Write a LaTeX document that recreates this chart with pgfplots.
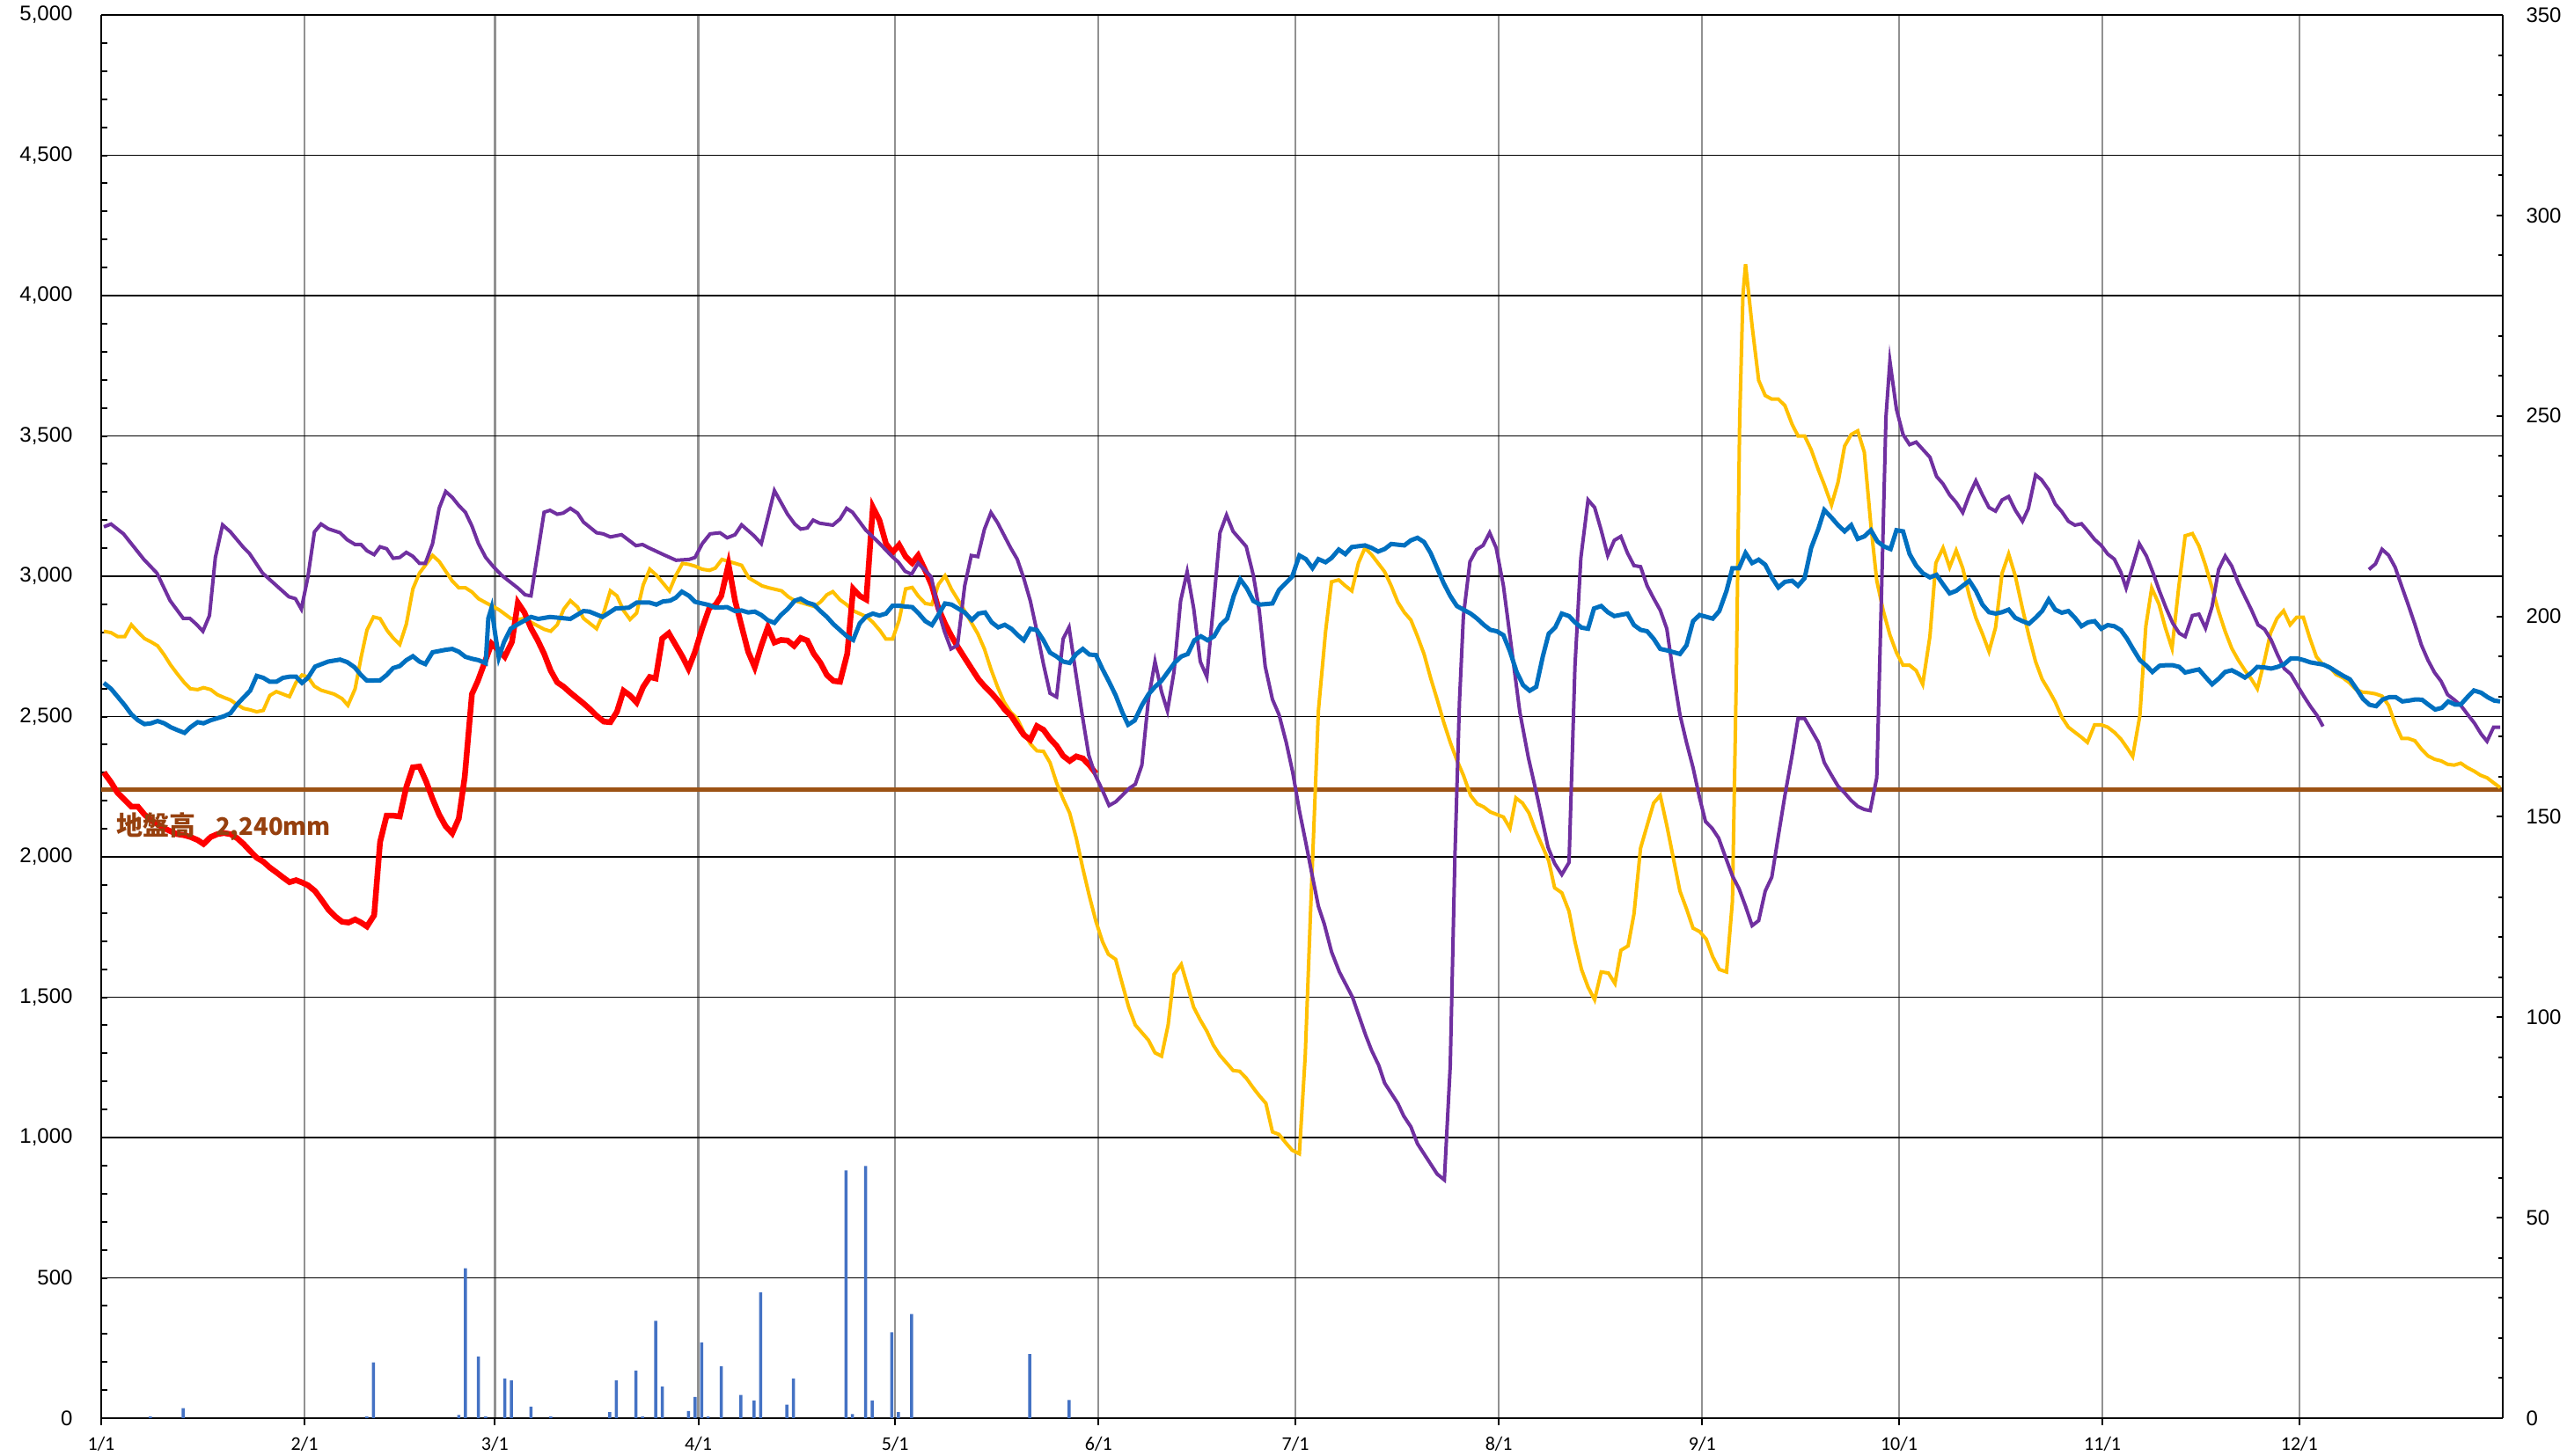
\documentclass[border=0pt]{standalone}
\usepackage{pgfplots}
\pgfplotsset{compat=1.18}
\usepackage{fontspec}
\setmainfont{Liberation Sans}
\newfontfamily\carlito{Carlito}
\newfontfamily\jp{Noto Sans CJK JP}
\definecolor{cBlue}{RGB}{0,112,192}
\definecolor{cYellow}{RGB}{255,192,0}
\definecolor{cPurple}{RGB}{112,48,160}
\definecolor{cRed}{RGB}{255,0,0}
\definecolor{cBrown}{RGB}{156,82,20}
\definecolor{cText}{RGB}{150,64,14}
\definecolor{cBar}{RGB}{68,114,196}
\definecolor{cGrid}{RGB}{145,145,145}
\begin{document}
\begin{tikzpicture}
\useasboundingbox (-46pt,-16.8pt) rectangle (1120.8pt,644.8pt);
\begin{axis}[
  at={(0pt,0pt)}, anchor=south west,
  scale only axis, width=1091.6pt, height=638pt,
  xmin=0, xmax=366, ymin=0, ymax=5000,
  axis x line*=bottom, axis y line*=left,
  axis line style={line width=1pt, black, -},
  xtick={0,31,60,91,121,152,182,213,244,274,305,335},
  xticklabels={1/1,2/1,3/1,4/1,5/1,6/1,7/1,8/1,9/1,10/1,11/1,12/1},
  ytick={0,500,...,5000},
  minor y tick num=4,
  tick align=inside,
  major tick length=3pt, minor tick length=2.8pt,
  tick style={black, line width=0.8pt},
  xtick style={yshift=-3pt},
  xmajorgrids, ymajorgrids,
  x grid style={cGrid, line width=0.9pt},
  y grid style={black, line width=0.75pt},
  scaled ticks=false,
  yticklabel style={font=\fontsize{9.6}{10}\selectfont, inner sep=0pt, xshift=-12.8pt,
    /pgf/number format/.cd, 1000 sep={,}, assume math mode=true},
  xticklabel style={font=\carlito\fontsize{8.8}{9}\selectfont, inner sep=0pt, yshift=-8.2pt},
  clip=false,
]
\addplot[cBrown, line width=2pt] coordinates {(0,2240)(366,2240)};
\addplot[cYellow, line width=1.6pt] coordinates {
(0.4,2804)(1.5,2799)(2.5,2785)(3.6,2785)(4.6,2827)(5.6,2801)(6.6,2778)(7.6,2766)(8.6,2752)(9.6,2720)(10.6,2683)(11.6,2652)(12.7,2620)(13.6,2599)(14.7,2596)(15.6,2603)(16.7,2596)(17.7,2578)(18.7,2568)(19.7,2559)(20.7,2543)(21.7,2529)(22.7,2524)(23.7,2517)(24.7,2522)(25.7,2575)(26.7,2589)(27.7,2580)(28.7,2571)(29.7,2622)(30.6,2648)(31.5,2641)(32.5,2608)(33.5,2594)(35.5,2580)(36.7,2564)(37.6,2540)(38.7,2599)(39.6,2710)(40.5,2808)(41.5,2855)(42.5,2849)(43.6,2806)(44.5,2780)(45.5,2757)(46.5,2829)(47.5,2955)(48.5,3011)(50.5,3074)(51.5,3053)(52.5,3018)(53.5,2983)(54.5,2959)(55.5,2959)(56.5,2944)(57.5,2920)(58.6,2906)(60.6,2881)(62.4,2850)(63.5,2846)(64.6,2850)(65.5,2836)(67.5,2811)(68.5,2804)(69.5,2827)(70.5,2883)(71.5,2913)(72.6,2890)(73.5,2850)(75.5,2813)(76.6,2871)(77.6,2948)(78.6,2930)(79.6,2878)(80.6,2846)(81.6,2869)(82.6,2969)(83.6,3025)(84.6,3004)(85.6,2976)(86.6,2948)(87.6,3004)(88.6,3046)(89.6,3042)(90.5,3036)(91.6,3025)(92.7,3021)(93.6,3029)(94.6,3060)(95.6,3053)(97.6,3039)(98.7,2994)(99.7,2980)(100.7,2966)(101.7,2959)(103.7,2948)(104.7,2927)(105.7,2913)(107.7,2899)(108.7,2892)(109.7,2910)(110.6,2934)(111.5,2945)(112.6,2916)(113.6,2899)(114.7,2876)(116.7,2855)(117.6,2836)(118.7,2806)(119.6,2776)(120.6,2776)(121.6,2843)(122.6,2955)(123.6,2960)(124.5,2930)(125.6,2903)(126.6,2899)(127.6,2971)(128.6,3002)(129.6,2953)(130.6,2915)(131.6,2876)(133.6,2795)(134.6,2741)(135.6,2669)(136.6,2606)(137.6,2552)(138.6,2516)(139.6,2493)(140.6,2444)(141.6,2403)(142.6,2378)(143.6,2376)(144.6,2336)(145.6,2264)(146.6,2207)(147.6,2156)(148.6,2067)(149.6,1959)(150.6,1860)(151.6,1770)(152.6,1698)(153.5,1653)(154.6,1635)(155.6,1549)(156.6,1464)(157.6,1401)(158.6,1374)(159.6,1347)(160.6,1302)(161.6,1290)(162.6,1401)(163.5,1581)(164.6,1617)(165.5,1545)(166.5,1464)(167.5,1419)(168.5,1379)(169.5,1329)(170.5,1293)(171.5,1266)(172.5,1239)(173.5,1236)(174.5,1212)(175.6,1176)(176.5,1149)(177.5,1122)(178.5,1020)(179.5,1011)(180.5,982)(181.5,955)(182.6,942)(183.5,1293)(184.3,1800)(185.5,2520)(186.6,2804)(187.5,2980)(188.6,2987)(189.6,2966)(190.6,2948)(191.6,3047)(192.6,3101)(193.6,3077)(195.6,3016)(196.6,2966)(197.6,2908)(198.6,2871)(199.6,2844)(200.6,2786)(201.6,2723)(202.6,2638)(203.6,2561)(204.6,2480)(205.6,2408)(206.6,2345)(207.6,2291)(208.7,2219)(209.7,2189)(210.7,2178)(211.7,2160)(213.7,2142)(214.7,2102)(215.6,2210)(216.6,2192)(217.6,2156)(218.6,2093)(219.6,2040)(220.6,1986)(221.5,1890)(222.6,1872)(223.7,1806)(224.6,1698)(225.6,1599)(226.6,1536)(227.6,1491)(228.6,1590)(229.7,1586)(230.7,1549)(231.6,1667)(232.7,1683)(233.6,1797)(234.6,2031)(235.6,2112)(236.6,2192)(237.6,2219)(238.6,2112)(239.6,1995)(240.6,1878)(241.6,1815)(242.6,1746)(243.6,1734)(244.6,1707)(245.6,1644)(246.6,1599)(247.7,1590)(248.6,1842)(249.2,2651)(249.7,3550)(250.2,4000)(250.6,4112)(251.6,3892)(252.6,3698)(253.6,3644)(254.6,3631)(255.6,3631)(256.6,3608)(257.7,3541)(258.6,3500)(259.6,3500)(260.6,3451)(261.7,3379)(262.6,3326)(263.7,3254)(264.7,3335)(265.7,3464)(266.7,3505)(267.7,3518)(268.7,3442)(269.7,3182)(270.6,2984)(271.6,2876)(272.6,2791)(273.6,2728)(274.6,2683)(275.6,2683)(276.6,2664)(277.6,2615)(278.7,2786)(279.6,3047)(280.7,3101)(281.7,3032)(282.7,3092)(283.7,3029)(284.7,2930)(285.7,2852)(286.7,2795)(287.7,2732)(288.7,2817)(289.7,3011)(290.7,3079)(291.7,3002)(292.8,2885)(293.8,2786)(294.8,2696)(295.8,2633)(296.8,2594)(297.8,2552)(298.8,2498)(299.8,2462)(300.8,2444)(301.8,2426)(302.7,2408)(303.8,2471)(304.8,2471)(305.8,2462)(306.8,2444)(307.8,2420)(308.7,2390)(309.6,2358)(310.7,2504)(311.6,2821)(312.5,2958)(313.6,2901)(314.6,2815)(315.6,2743)(316.6,2958)(317.6,3144)(318.7,3152)(319.7,3108)(320.7,3039)(321.7,2958)(322.7,2874)(323.7,2803)(324.7,2743)(325.7,2701)(326.7,2665)(327.7,2633)(328.6,2599)(329.7,2701)(330.6,2797)(331.6,2850)(332.6,2877)(333.6,2827)(334.6,2854)(335.6,2854)(336.6,2779)(337.6,2713)(338.6,2685)(339.6,2677)(340.6,2650)(341.6,2639)(342.6,2621)(343.6,2597)(344.6,2587)(345.6,2585)(346.6,2581)(347.6,2573)(348.6,2540)(349.6,2474)(350.6,2422)(351.6,2422)(352.6,2414)(353.6,2384)(354.6,2360)(355.6,2348)(356.6,2342)(357.6,2330)(358.6,2327)(359.6,2334)(360.6,2318)(361.6,2306)(362.6,2291)(363.6,2282)(364.6,2264)(365.6,2247)};
\addplot[cRed, line width=2.6pt] coordinates {
(0.4,2301)(1.5,2266)(2.5,2228)(3.6,2203)(4.6,2179)(5.6,2179)(6.6,2151)(7.6,2130)(8.6,2116)(9.6,2102)(10.6,2091)(11.6,2081)(12.7,2077)(13.6,2071)(14.7,2060)(15.6,2046)(16.7,2071)(17.7,2081)(18.7,2085)(19.7,2081)(20.7,2067)(21.7,2046)(22.7,2021)(23.7,1997)(24.7,1983)(25.7,1962)(26.7,1945)(27.7,1927)(28.7,1910)(29.7,1917)(30.6,1909)(31.5,1899)(32.6,1878)(33.7,1843)(34.6,1813)(35.7,1787)(36.7,1769)(37.7,1766)(38.7,1777)(39.6,1766)(40.5,1752)(41.6,1792)(42.5,2053)(43.5,2147)(44.5,2147)(45.5,2144)(46.5,2249)(47.5,2319)(48.5,2322)(49.5,2270)(50.5,2207)(51.5,2151)(52.5,2109)(53.5,2084)(54.5,2137)(55.4,2284)(56.5,2580)(57.4,2627)(58.6,2703)(59.5,2760)(60.5,2738)(61.5,2713)(62.6,2766)(63.5,2906)(64.5,2871)(65.5,2815)(66.5,2773)(67.5,2724)(68.5,2664)(69.5,2622)(70.5,2606)(71.5,2585)(72.6,2564)(73.5,2547)(74.6,2524)(75.5,2503)(76.6,2482)(77.6,2480)(78.6,2517)(79.6,2592)(80.6,2575)(81.6,2550)(82.6,2606)(83.6,2641)(84.5,2636)(85.5,2778)(86.5,2797)(87.5,2757)(88.5,2717)(89.5,2671)(90.5,2731)(91.6,2815)(92.7,2888)(93.6,2897)(94.5,2930)(95.6,3042)(96.6,2913)(97.6,2822)(98.6,2731)(99.6,2676)(100.6,2752)(101.6,2818)(102.6,2764)(103.6,2773)(104.6,2771)(105.6,2752)(106.6,2780)(107.6,2771)(108.6,2724)(109.6,2692)(110.6,2648)(111.6,2627)(112.6,2624)(113.7,2724)(114.6,2955)(115.6,2930)(116.6,2917)(117.6,3246)(118.6,3200)(119.6,3116)(120.6,3085)(121.6,3112)(122.6,3070)(123.6,3047)(124.5,3074)(125.6,3020)(126.6,2966)(127.6,2885)(128.6,2831)(129.6,2786)(130.6,2746)(131.6,2709)(132.7,2669)(133.7,2633)(134.7,2606)(135.7,2583)(136.7,2556)(137.7,2525)(138.7,2502)(139.7,2466)(140.6,2435)(141.6,2417)(142.6,2466)(143.6,2453)(144.6,2421)(145.6,2396)(146.6,2360)(147.6,2342)(148.6,2358)(149.6,2351)(150.6,2327)(151.6,2297)};
\addplot[cPurple, line width=1.6pt] coordinates {
(0.4,3176)(1.5,3186)(3.4,3151)(6.5,3060)(8.5,3011)(10.5,2913)(12.5,2850)(13.5,2850)(14.5,2829)(15.5,2804)(16.5,2860)(17.4,3067)(18.5,3183)(19.7,3158)(21.7,3102)(22.6,3081)(24.6,3011)(26.6,2969)(28.6,2927)(29.6,2920)(30.5,2883)(31.5,2997)(32.5,3158)(33.5,3186)(34.6,3169)(36.4,3155)(37.5,3130)(38.7,3113)(39.6,3113)(40.5,3091)(41.6,3077)(42.5,3105)(43.5,3098)(44.5,3064)(45.5,3067)(46.5,3085)(47.5,3071)(48.5,3046)(49.4,3046)(50.5,3116)(51.5,3242)(52.5,3302)(53.5,3281)(54.5,3252)(55.5,3228)(56.5,3179)(57.5,3116)(58.6,3067)(59.7,3036)(61.0,3004)(62.3,2980)(63.5,2958)(64.6,2934)(65.5,2930)(67.5,3228)(68.4,3235)(69.5,3221)(70.4,3225)(71.5,3242)(72.6,3225)(73.5,3193)(75.5,3155)(76.5,3151)(77.6,3140)(79.3,3148)(81.5,3109)(82.5,3113)(83.4,3102)(85.6,3078)(87.6,3057)(89.6,3060)(90.5,3067)(91.6,3116)(92.8,3151)(94.3,3155)(95.4,3137)(96.6,3148)(97.6,3183)(99.5,3144)(100.6,3116)(101.5,3200)(102.6,3305)(104.6,3221)(105.7,3186)(106.6,3168)(107.6,3172)(108.5,3200)(109.5,3189)(111.5,3182)(112.6,3204)(113.6,3242)(114.5,3228)(116.5,3165)(118.5,3120)(120.5,3071)(121.5,3050)(122.5,3018)(123.5,3007)(124.5,3047)(126.5,2998)(127.6,2876)(128.5,2804)(129.5,2741)(130.5,2754)(131.6,2966)(132.6,3074)(133.6,3070)(134.6,3167)(135.6,3227)(136.6,3191)(138.6,3101)(139.6,3061)(140.6,2993)(141.6,2912)(142.6,2804)(143.6,2687)(144.6,2583)(145.6,2570)(146.6,2777)(147.5,2818)(148.5,2660)(149.5,2507)(150.5,2363)(151.5,2291)(152.6,2237)(153.6,2183)(154.6,2196)(155.6,2219)(156.6,2243)(157.6,2259)(158.6,2327)(159.6,2561)(160.6,2696)(161.6,2588)(162.5,2520)(163.5,2660)(164.5,2912)(165.5,3016)(166.5,2885)(167.5,2696)(168.5,2642)(169.5,2894)(170.5,3155)(171.5,3218)(172.5,3160)(174.5,3106)(175.6,3002)(176.5,2876)(177.4,2678)(178.5,2561)(179.5,2507)(180.6,2408)(181.6,2300)(182.6,2165)(183.6,2049)(184.5,1941)(185.5,1824)(186.4,1761)(187.5,1662)(188.7,1590)(190.7,1500)(192.7,1365)(193.6,1311)(194.7,1257)(195.6,1194)(197.6,1122)(198.5,1077)(199.6,1038)(200.6,978)(201.6,942)(202.6,906)(203.6,870)(204.7,849)(205.6,1257)(206.3,1995)(207.0,2552)(207.6,2858)(208.6,3052)(209.6,3095)(210.6,3110)(211.6,3155)(212.6,3101)(213.7,2966)(214.8,2768)(216.2,2516)(217.5,2354)(218.9,2210)(220.5,2034)(221.5,1977)(222.6,1937)(223.7,1980)(224.6,2678)(225.5,3065)(226.6,3272)(227.6,3245)(228.6,3164)(229.6,3074)(230.6,3128)(231.6,3142)(232.6,3083)(233.6,3038)(234.6,3034)(235.6,2966)(236.6,2921)(237.6,2879)(238.6,2813)(239.6,2651)(240.6,2507)(241.6,2408)(242.6,2318)(243.6,2210)(244.5,2126)(245.5,2102)(246.5,2067)(247.3,2015)(248.6,1932)(249.6,1887)(250.6,1824)(251.6,1755)(252.6,1773)(253.6,1878)(254.6,1928)(255.6,2075)(256.6,2219)(257.7,2363)(258.6,2493)(259.6,2493)(260.6,2453)(261.7,2408)(262.6,2336)(263.7,2291)(264.7,2252)(265.7,2228)(266.7,2201)(267.7,2180)(268.7,2169)(269.6,2165)(270.6,2282)(271.4,3011)(272.0,3568)(272.6,3766)(273.6,3595)(274.6,3505)(275.6,3469)(276.6,3478)(278.7,3424)(279.7,3356)(280.7,3329)(281.7,3290)(282.7,3263)(283.7,3227)(284.7,3290)(285.7,3340)(286.7,3290)(287.7,3245)(288.7,3232)(289.7,3272)(290.7,3284)(291.7,3236)(292.8,3196)(293.7,3241)(294.8,3361)(295.7,3344)(296.8,3308)(297.8,3257)(298.8,3230)(299.8,3196)(300.8,3182)(301.8,3187)(302.8,3160)(303.8,3131)(304.8,3110)(305.8,3079)(306.8,3061)(307.8,3014)(308.6,2958)(309.6,3036)(310.6,3116)(311.7,3072)(312.7,3012)(313.7,2946)(314.7,2886)(315.7,2833)(316.7,2797)(317.6,2785)(318.7,2860)(319.7,2865)(320.7,2815)(321.7,2892)(322.7,3024)(323.7,3072)(324.7,3036)(325.7,2976)(326.7,2928)(327.7,2880)(328.7,2827)(329.7,2811)(330.7,2773)(331.7,2719)(332.7,2671)(333.7,2651)(334.7,2611)(335.7,2572)(336.7,2536)(337.7,2504)(338.6,2465)};
\addplot[cPurple, line width=1.6pt] coordinates {
(345.6,3024)(346.6,3044)(347.6,3096)(348.6,3075)(349.6,3032)(350.6,2964)(351.6,2898)(352.6,2829)(353.6,2755)(354.6,2701)(355.6,2657)(356.6,2626)(357.6,2578)(358.6,2560)(359.6,2540)(360.7,2506)(361.7,2476)(362.7,2438)(363.6,2412)(364.6,2462)(365.6,2462)};
\addplot[cBlue, line width=2pt] coordinates {
(0.4,2620)(1.5,2599)(2.5,2571)(3.6,2540)(4.6,2508)(5.6,2487)(6.6,2473)(7.6,2476)(8.6,2484)(9.6,2476)(10.6,2462)(11.6,2452)(12.7,2442)(13.6,2462)(14.7,2480)(15.6,2476)(16.7,2487)(17.7,2494)(18.7,2501)(19.7,2512)(20.7,2543)(21.7,2568)(22.7,2592)(23.7,2645)(24.7,2638)(25.7,2624)(26.7,2624)(27.7,2638)(28.7,2642)(29.7,2642)(30.6,2620)(31.5,2638)(32.6,2678)(34.6,2696)(36.4,2703)(37.5,2694)(38.6,2676)(39.6,2648)(40.5,2628)(42.5,2629)(43.5,2648)(44.5,2673)(45.5,2680)(46.5,2701)(47.5,2715)(48.5,2696)(49.4,2687)(50.5,2729)(52.5,2738)(53.5,2741)(54.5,2731)(55.5,2713)(56.5,2706)(57.5,2701)(58.6,2690)(59.0,2850)(59.5,2888)(60.0,2801)(60.6,2710)(61.4,2766)(62.4,2813)(63.5,2829)(65.5,2855)(66.6,2848)(68.4,2855)(71.5,2848)(73.5,2876)(74.4,2874)(76.4,2855)(78.4,2885)(80.4,2888)(81.6,2906)(83.6,2906)(84.6,2899)(85.6,2910)(86.7,2913)(87.6,2924)(88.5,2945)(89.6,2930)(90.5,2909)(91.6,2903)(92.7,2897)(93.6,2888)(95.4,2890)(96.6,2876)(97.6,2878)(98.6,2871)(99.6,2874)(100.6,2862)(101.6,2843)(102.6,2834)(103.6,2862)(104.6,2883)(105.7,2913)(106.6,2920)(107.6,2906)(108.6,2899)(109.6,2876)(110.6,2855)(111.6,2829)(112.6,2808)(113.7,2785)(114.6,2773)(115.6,2832)(116.6,2857)(117.6,2867)(118.6,2860)(119.6,2867)(120.6,2895)(121.6,2895)(122.6,2892)(123.6,2890)(124.6,2867)(125.6,2840)(126.6,2826)(127.6,2863)(128.6,2903)(129.6,2899)(130.6,2885)(131.6,2871)(132.7,2844)(133.7,2867)(134.7,2871)(135.7,2836)(136.7,2818)(137.7,2827)(138.7,2813)(139.7,2790)(140.6,2772)(141.6,2813)(142.6,2808)(143.6,2772)(144.6,2728)(145.6,2714)(146.6,2696)(147.6,2691)(148.6,2723)(149.6,2741)(150.6,2721)(151.6,2719)(152.6,2669)(153.6,2624)(154.6,2576)(155.6,2516)(156.5,2471)(157.5,2486)(158.6,2540)(159.6,2579)(160.6,2606)(161.6,2628)(162.6,2660)(163.6,2692)(164.6,2714)(165.6,2723)(166.6,2772)(167.6,2786)(168.6,2772)(169.6,2786)(170.6,2827)(171.6,2849)(172.6,2930)(173.6,2989)(174.6,2957)(175.6,2912)(176.6,2899)(178.5,2903)(179.5,2951)(180.5,2975)(181.5,2998)(182.6,3074)(183.6,3061)(184.6,3029)(185.5,3061)(186.6,3050)(187.5,3065)(188.6,3095)(189.6,3079)(190.6,3104)(192.6,3110)(193.6,3101)(194.6,3088)(195.6,3097)(196.6,3115)(198.6,3110)(199.6,3128)(200.6,3137)(201.6,3122)(202.6,3083)(203.6,3029)(204.6,2975)(205.6,2930)(206.6,2894)(207.6,2881)(208.7,2867)(209.7,2849)(210.7,2827)(211.7,2809)(212.7,2804)(213.7,2790)(214.7,2732)(215.7,2660)(216.7,2612)(217.7,2592)(218.7,2606)(219.7,2714)(220.6,2795)(221.6,2818)(222.6,2867)(223.7,2858)(224.6,2836)(225.6,2817)(226.6,2813)(227.5,2885)(228.6,2894)(229.6,2872)(230.6,2858)(232.6,2867)(233.6,2826)(234.6,2809)(235.6,2804)(236.6,2777)(237.6,2741)(238.6,2736)(240.6,2723)(241.6,2754)(242.6,2840)(243.6,2862)(245.6,2849)(246.6,2876)(247.7,2948)(248.6,3029)(249.6,3029)(250.6,3083)(251.6,3047)(252.6,3059)(253.6,3041)(254.6,2996)(255.6,2960)(256.6,2980)(257.7,2984)(258.6,2966)(259.6,2993)(260.6,3101)(261.7,3169)(262.6,3236)(263.7,3209)(264.7,3182)(265.7,3160)(266.7,3182)(267.7,3133)(268.7,3142)(269.7,3164)(270.7,3124)(271.7,3106)(272.7,3097)(273.6,3164)(274.6,3160)(275.6,3079)(276.6,3038)(277.6,3011)(278.7,2996)(279.7,3005)(280.7,2971)(281.7,2939)(282.7,2948)(283.7,2966)(284.7,2984)(285.7,2948)(286.7,2899)(287.7,2872)(288.7,2867)(289.7,2872)(290.7,2881)(291.7,2852)(292.8,2840)(293.8,2831)(294.8,2852)(295.8,2876)(296.8,2917)(297.8,2881)(298.8,2870)(299.8,2876)(300.8,2852)(301.8,2822)(302.8,2836)(303.8,2840)(304.8,2813)(305.8,2826)(306.8,2822)(307.8,2808)(308.7,2779)(309.6,2743)(310.7,2701)(311.7,2681)(312.6,2659)(313.7,2681)(314.7,2683)(315.7,2683)(316.7,2677)(317.6,2657)(318.7,2663)(319.7,2668)(320.7,2641)(321.7,2615)(322.7,2635)(323.7,2659)(324.7,2665)(325.7,2653)(326.7,2639)(327.7,2656)(328.6,2677)(329.7,2675)(330.7,2671)(331.7,2677)(332.7,2687)(333.7,2707)(334.7,2707)(335.7,2701)(336.7,2693)(337.7,2689)(338.7,2685)(339.7,2674)(340.7,2659)(341.7,2645)(342.7,2633)(343.7,2599)(344.7,2563)(345.7,2542)(346.7,2537)(347.7,2561)(348.7,2569)(349.7,2569)(350.7,2554)(351.7,2557)(352.7,2561)(353.7,2560)(354.7,2542)(355.7,2525)(356.7,2531)(357.7,2554)(358.7,2543)(359.6,2543)(360.6,2569)(361.6,2593)(362.7,2585)(363.7,2569)(364.7,2557)(365.6,2554)};
\node[anchor=west, inner sep=0pt, text=cText, font=\jp\bfseries\fontsize{12}{13}\selectfont] at (axis cs:2.3,2107) {地盤高\hspace{0.75em}{\fontsize{11}{13}\selectfont 2,240mm}};
\end{axis}
\begin{axis}[
  at={(0pt,0pt)}, anchor=south west,
  scale only axis, width=1091.6pt, height=638pt,
  xmin=0, xmax=366, ymin=0, ymax=350,
  hide x axis,
  axis y line*=right,
  axis line style={line width=1pt, black, -},
  ytick={0,50,...,350},
  minor y tick num=4,
  tick align=inside,
  major tick length=2.8pt, minor tick length=2pt,
  tick style={black, line width=0.8pt},
  yticklabel style={font=\fontsize{9.6}{10}\selectfont, inner sep=0pt, xshift=10.4pt,
    /pgf/number format/assume math mode=true},
  ybar, bar width=1.4pt,
]
\addplot[fill=cBar, draw=none] coordinates {
(7.5,0.4)(12.5,2.5)(40.5,0.4)(41.5,13.9)(54.5,0.8)(55.5,37.4)(57.5,15.4)(58.6,0.4)(61.5,9.9)(62.5,9.4)(65.5,2.9)(68.5,0.4)(77.5,1.5)(78.5,9.4)(81.5,11.9)(82.5,0.4)(84.5,24.3)(85.5,7.9)(89.5,1.8)(90.5,5.3)(91.5,18.9)(92.5,0.4)(94.5,12.9)(97.5,5.8)(99.5,4.4)(100.5,31.4)(104.5,3.4)(105.5,9.9)(113.5,61.8)(114.5,1.0)(116.5,62.9)(117.5,4.4)(120.5,21.4)(121.5,1.5)(123.5,26.0)(141.5,16.0)(147.5,4.5)};
\end{axis}
\end{tikzpicture}
\end{document}
